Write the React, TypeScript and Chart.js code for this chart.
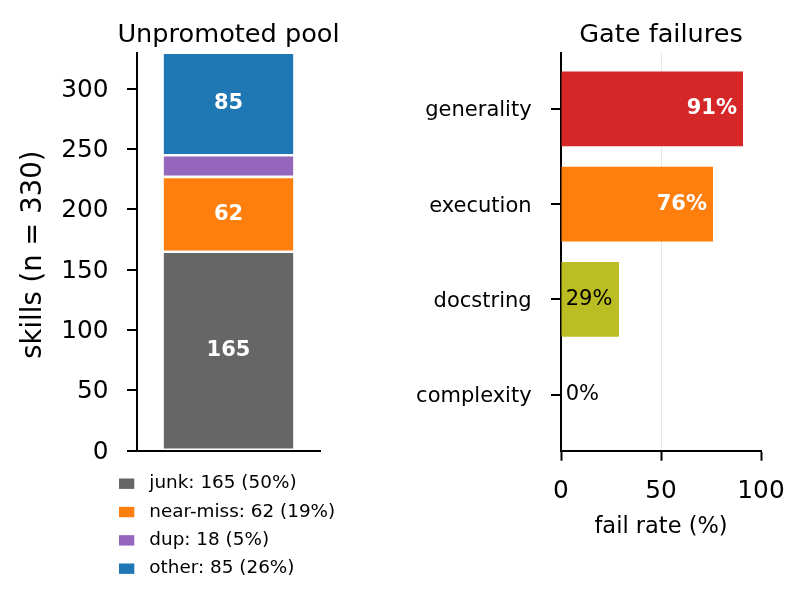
import { useEffect, useRef } from 'react';
import { Chart, registerables } from 'chart.js';

Chart.register(...registerables);

const FONT = '"DejaVu Sans", "Liberation Sans", sans-serif';
Chart.defaults.font.family = FONT;
Chart.defaults.color = '#000';

// Unpromoted pool breakdown (stacked counts)
const poolCategories = ['junk', 'near-miss', 'dup', 'other'];
const poolCounts = [165, 62, 18, 85];
const poolColors = ['#666666', '#ff7f0e', '#9467bd', '#1f77b4'];
const poolTicks = [0, 50, 100, 150, 200, 250, 300];

// Gate failure rates, in percent
const gateNames = ['generality', 'execution', 'docstring', 'complexity'];
const gateFailRates = [91, 76, 29, 0];
const gateColors = ['#d62728', '#ff7f0e', '#bcbd22', '#1f77b4'];
const rateTicks = [0, 50, 100];

const poolTotal = poolCounts.reduce((a, b) => a + b, 0);

type TextOpts = {
  size: number;
  weight?: string;
  color?: string;
  align?: CanvasTextAlign;
  baseline?: CanvasTextBaseline;
  rotate?: number;
};

function drawText(ctx: CanvasRenderingContext2D, text: string, x: number, y: number, o: TextOpts) {
  ctx.save();
  ctx.font = `${o.weight || 'normal'} ${o.size}px ${FONT}`;
  ctx.fillStyle = o.color || '#000';
  ctx.textAlign = o.align || 'center';
  ctx.textBaseline = o.baseline || 'alphabetic';
  ctx.translate(x, y);
  if (o.rotate) ctx.rotate(o.rotate);
  ctx.fillText(text, 0, 0);
  ctx.restore();
}

const axisLine = { display: true, color: '#000', width: 2 };
const tickMarks = {
  display: true,
  offset: false,
  drawOnChartArea: false,
  drawTicks: true,
  tickLength: 10,
  tickColor: '#000',
  tickWidth: 2,
  color: '#000',
  lineWidth: 2,
};

// Title, axis label, segment values and legend for the stacked pool bar
const poolDecorations = {
  id: 'poolDecorations',
  afterDraw(chart: any) {
    const ctx: CanvasRenderingContext2D = chart.ctx;
    const area = chart.chartArea;
    const cx = (area.left + area.right) / 2;
    drawText(ctx, 'Unpromoted pool', cx, 41.5, { size: 25.6 });
    drawText(ctx, `skills (n = ${poolTotal})`, 34, (area.top + area.bottom) / 2 + 3, {
      size: 27.5,
      baseline: 'middle',
      rotate: -Math.PI / 2,
    });

    poolCounts.forEach((count, i) => {
      if (count < 30) return;
      const el = chart.getDatasetMeta(i).data[0];
      const p = el.getProps(['x', 'y', 'base'], true);
      drawText(ctx, String(count), p.x, (p.y + p.base) / 2, {
        size: 21,
        weight: 'bold',
        color: '#fff',
        baseline: 'middle',
      });
    });

    const rowTop = 483.7;
    const rowStep = 28.33;
    poolCategories.forEach((name, i) => {
      const y = rowTop + i * rowStep;
      ctx.fillStyle = poolColors[i];
      ctx.fillRect(119, y - 5.2, 15.3, 10.4);
      const pct = Math.round((poolCounts[i] / poolTotal) * 100);
      drawText(ctx, `${name}: ${poolCounts[i]} (${pct}%)`, 149.3, y, {
        size: 18.4,
        align: 'left',
        baseline: 'middle',
      });
    });
  },
};

// Title, axis label and rate labels for the gate bars
const gateDecorations = {
  id: 'gateDecorations',
  afterDraw(chart: any) {
    const ctx: CanvasRenderingContext2D = chart.ctx;
    const area = chart.chartArea;
    const cx = (area.left + area.right) / 2;
    drawText(ctx, 'Gate failures', cx, 41.5, { size: 25.6 });
    drawText(ctx, 'fail rate (%)', cx, 533, { size: 22.5 });

    const xScale = chart.scales.x;
    const meta = chart.getDatasetMeta(0);
    gateFailRates.forEach((rate, i) => {
      const el = meta.data[i];
      const p = el.getProps(['x', 'y'], true);
      if (rate >= 50) {
        drawText(ctx, `${rate}%`, p.x - 6, p.y, {
          size: 21,
          weight: 'bold',
          color: '#fff',
          align: 'right',
          baseline: 'middle',
        });
      } else {
        drawText(ctx, `${rate}%`, xScale.getPixelForValue(0) + 4.7, p.y, {
          size: 21,
          align: 'left',
          baseline: 'middle',
        });
      }
    });
  },
};

function poolConfig(): any {
  return {
    type: 'bar',
    data: {
      labels: [''],
      datasets: poolCategories.map((name, i) => ({
        label: name,
        data: [poolCounts[i]],
        backgroundColor: poolColors[i],
        borderColor: '#ffffff',
        borderWidth: 1.3,
        borderSkipped: false,
        barPercentage: 0.721,
        categoryPercentage: 1,
        stack: 'pool',
      })),
    },
    options: {
      responsive: false,
      animation: false,
      devicePixelRatio: 1,
      events: [],
      layout: { padding: { left: 0, top: 52.7, right: 486, bottom: 157.3 } },
      plugins: {
        legend: { display: false },
        tooltip: { enabled: false },
        title: { display: false },
      },
      scales: {
        x: {
          stacked: true,
          z: 1,
          grid: { display: false },
          border: axisLine,
          ticks: { display: false },
          afterFit: (s: any) => {
            s.height = 0;
          },
        },
        y: {
          stacked: true,
          z: 1,
          min: 0,
          max: poolTotal,
          afterBuildTicks: (s: any) => {
            s.ticks = poolTicks.map((v) => ({ value: v }));
          },
          afterFit: (s: any) => {
            s.width = 137;
          },
          grid: tickMarks,
          border: axisLine,
          ticks: {
            color: '#000',
            font: { family: FONT, size: 24.8 },
            padding: 18.4,
            labelOffset: 1.5,
          },
        },
      },
    },
    plugins: [poolDecorations],
  };
}

function gateConfig(): any {
  const n = gateNames.length;
  return {
    type: 'bar',
    data: {
      datasets: [
        {
          data: gateNames.map((_, i) => ({ x: gateFailRates[i], y: n - 1 - i })),
          backgroundColor: gateColors,
          borderWidth: 0,
          barPercentage: 0.785,
          categoryPercentage: 1,
        },
      ],
    },
    options: {
      indexAxis: 'y',
      responsive: false,
      animation: false,
      devicePixelRatio: 1,
      events: [],
      layout: { padding: { left: 0, top: 52.7, right: 45, bottom: 97.3 } },
      plugins: {
        legend: { display: false },
        tooltip: { enabled: false },
        title: { display: false },
      },
      scales: {
        x: {
          type: 'linear',
          min: 0,
          max: 100,
          z: 1,
          offset: false,
          afterBuildTicks: (s: any) => {
            s.ticks = rateTicks.map((v) => ({ value: v }));
          },
          afterFit: (s: any) => {
            s.height = 60;
          },
          grid: {
            display: true,
            offset: false,
            drawOnChartArea: true,
            drawTicks: true,
            tickLength: 10,
            tickColor: '#000',
            tickWidth: 2,
            lineWidth: 1,
            color: (c: any) =>
              c.tick && c.tick.value === 50 ? 'rgba(176,176,176,0.3)' : 'rgba(0,0,0,0)',
          },
          border: axisLine,
          ticks: {
            color: '#000',
            font: { family: FONT, size: 24.8 },
            padding: 16,
            maxRotation: 0,
            autoSkip: false,
          },
        },
        y: {
          type: 'linear',
          min: -0.59,
          max: n - 1 + 0.59,
          z: 1,
          offset: false,
          afterBuildTicks: (s: any) => {
            s.ticks = gateNames.map((_, i) => ({ value: n - 1 - i }));
          },
          afterFit: (s: any) => {
            s.width = 561;
          },
          grid: tickMarks,
          border: axisLine,
          ticks: {
            color: '#000',
            font: { family: FONT, size: 21 },
            padding: 19.4,
            labelOffset: 2,
            autoSkip: false,
            callback: (v: number) => gateNames[n - 1 - Math.round(v)],
          },
        },
      },
    },
    plugins: [gateDecorations],
  };
}

export default function App() {
  const poolRef = useRef<HTMLCanvasElement>(null);
  const gateRef = useRef<HTMLCanvasElement>(null);

  useEffect(() => {
    const pool = new Chart(poolRef.current as HTMLCanvasElement, poolConfig());
    const gate = new Chart(gateRef.current as HTMLCanvasElement, gateConfig());
    return () => {
      pool.destroy();
      gate.destroy();
    };
  }, []);

  const canvasStyle: React.CSSProperties = { position: 'absolute', left: 0, top: 0 };
  return (
    <div style={{ position: 'absolute', left: 0, top: 0, width: 806, height: 608, background: '#fff' }}>
      <canvas ref={poolRef} width={806} height={608} style={canvasStyle} />
      <canvas ref={gateRef} width={806} height={608} style={canvasStyle} />
    </div>
  );
}
